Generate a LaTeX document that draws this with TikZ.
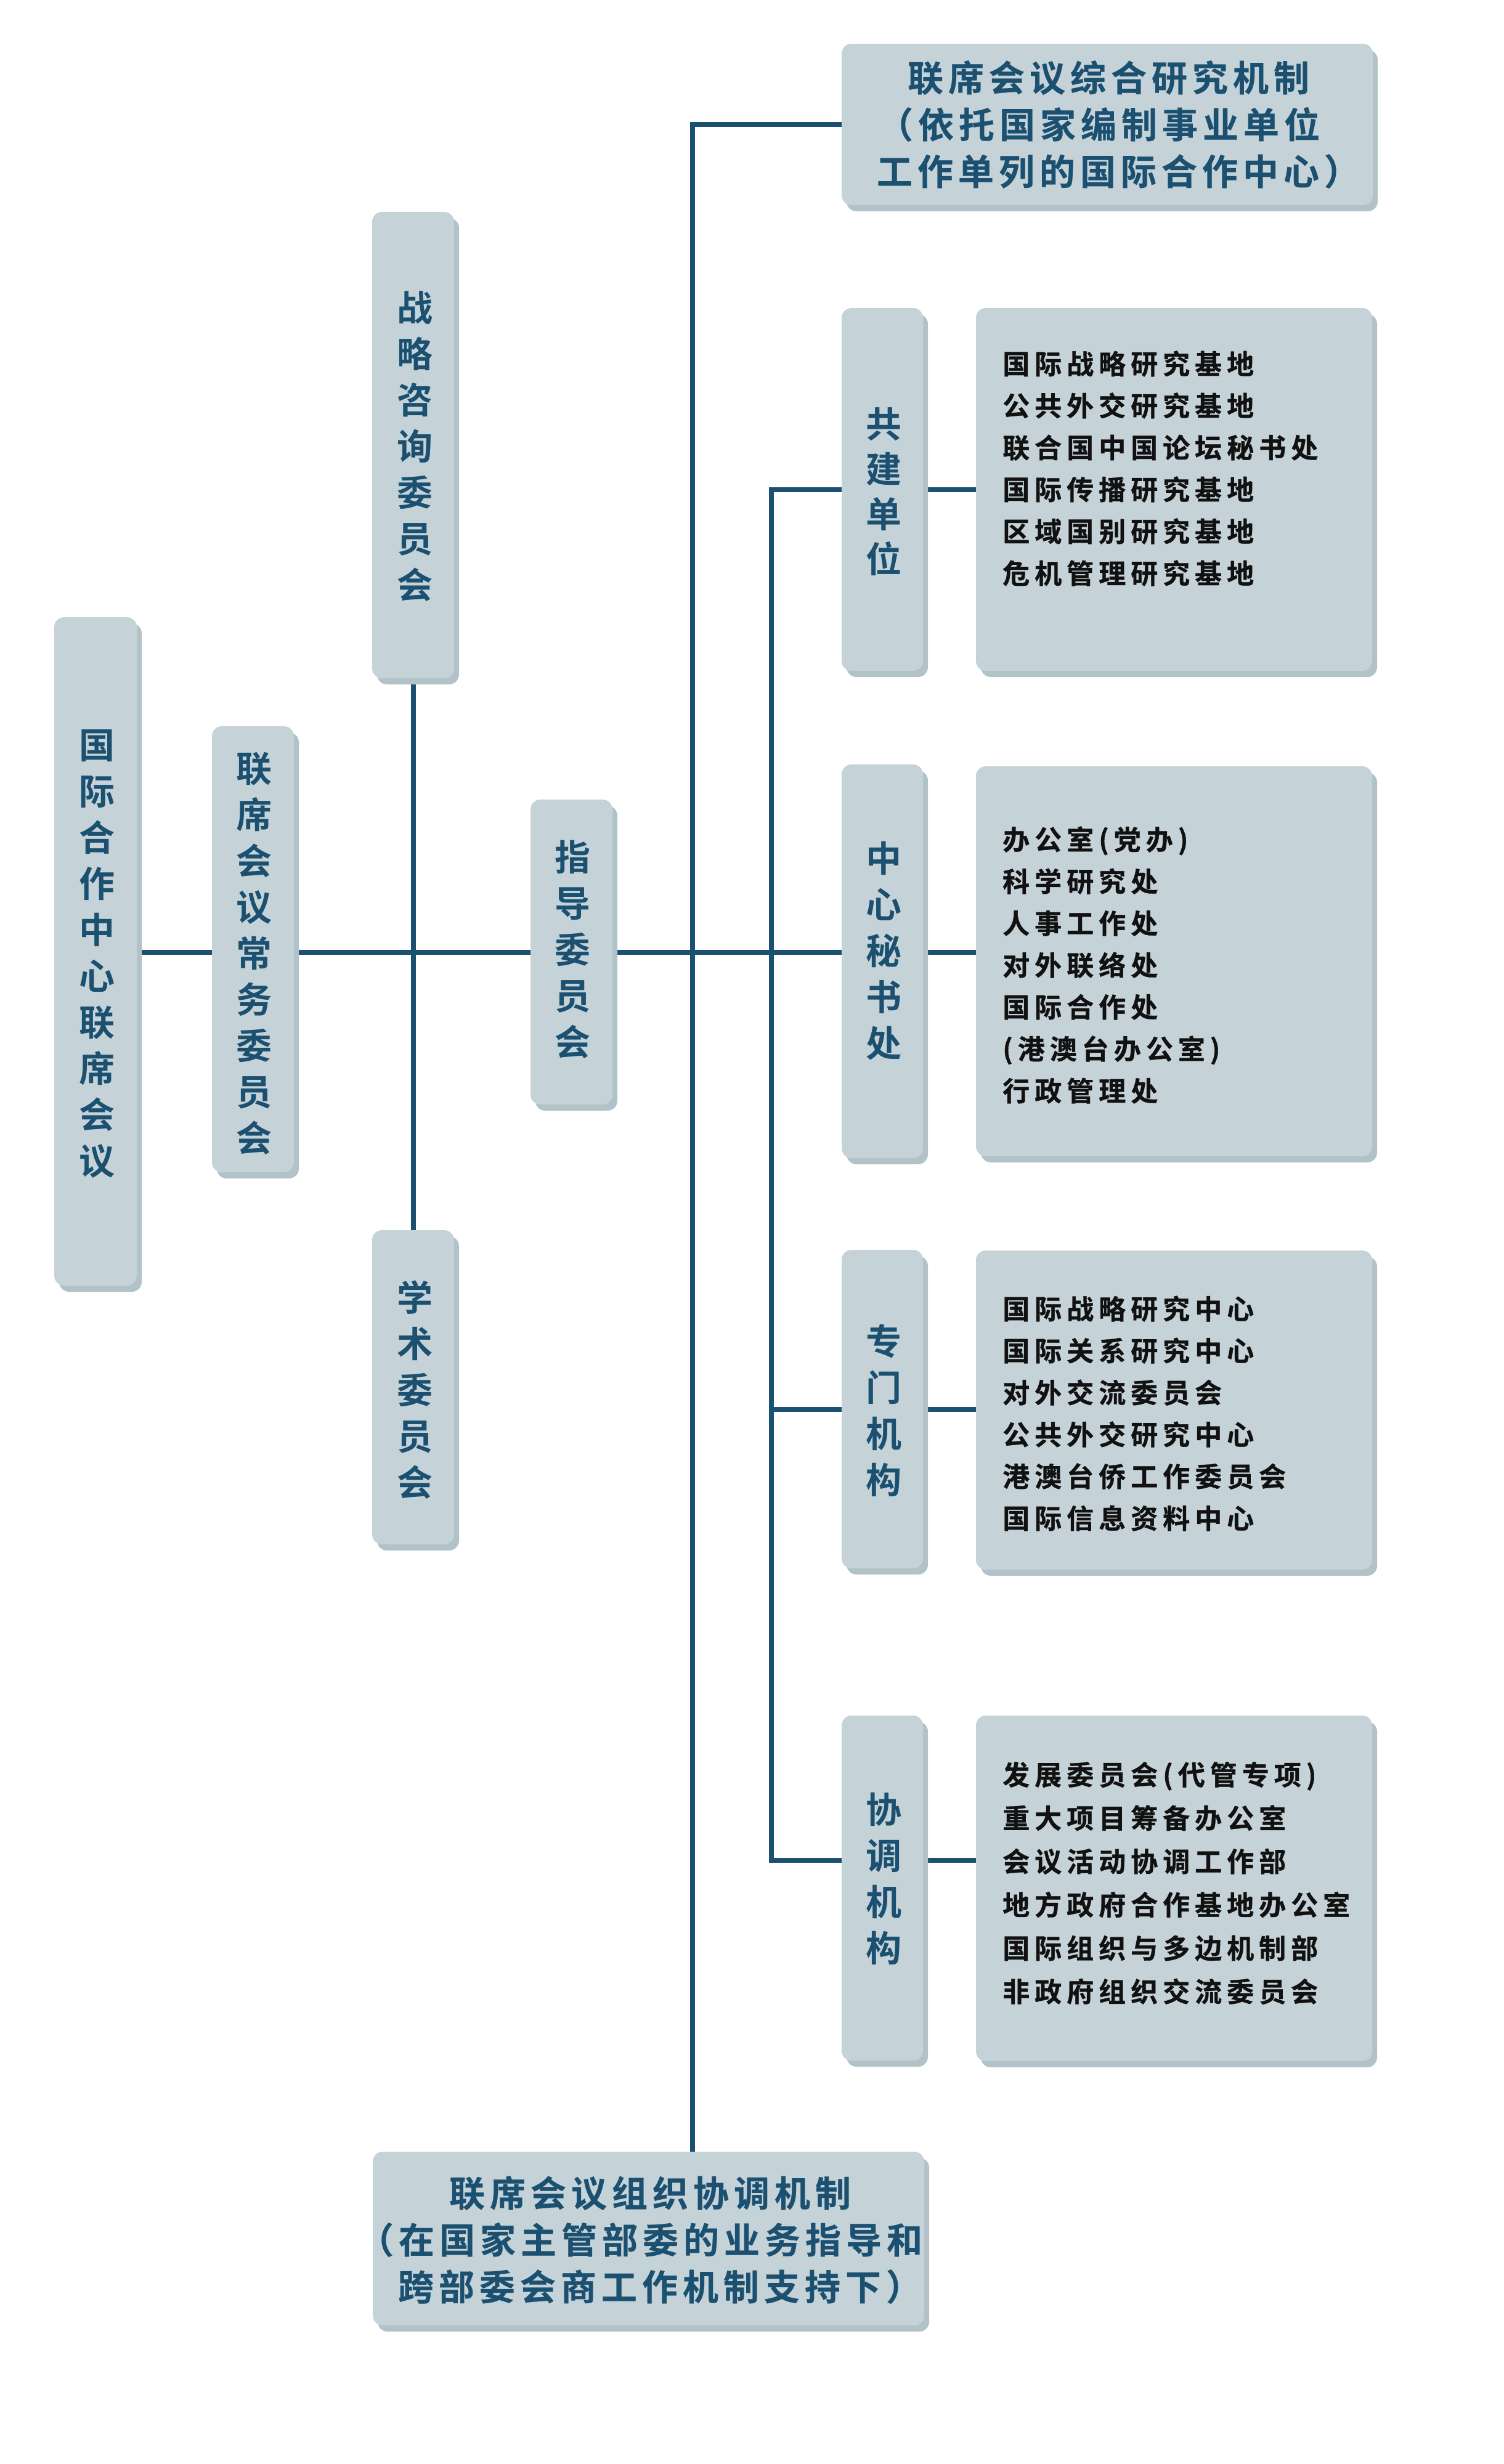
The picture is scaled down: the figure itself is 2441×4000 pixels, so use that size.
\documentclass[tikz,border=0pt]{standalone}
\usepackage{fontspec}
\newfontfamily\cjkb{Noto Sans CJK SC Bold}
\newfontfamily\cjkh{Noto Sans CJK SC Bold}[FakeBold=0.4]
\newfontfamily\cjkk{Noto Sans CJK SC Bold}[FakeBold=0.8]
\usetikzlibrary{shadows}
\pgfdeclarelayer{background}
\pgfsetlayers{background,main}
\definecolor{boxc}{HTML}{C5D3D8}
\definecolor{shc}{HTML}{B2C2C9}
\definecolor{bluec}{HTML}{1B5070}
\definecolor{txtc}{HTML}{111111}
\def\trh#1{\def\trkamt{8pt}\traux#1\relax\unkern}
\def\trl#1{\def\trkamt{8pt}\traux#1\relax\unkern}
\def\traux#1{\ifx#1\relax\else#1\kern\trkamt\relax\expandafter\traux\fi}
\def\lp{\makebox[0.45em][r]{（}}
\def\rp{\makebox[0.45em][l]{）}}
\tikzset{
  box/.style={rectangle, rounded corners=16pt, fill=boxc, inner sep=0pt,
    general shadow={fill=shc, shadow xshift=8pt, shadow yshift=-10pt}},
  vtxt/.style={align=center, inner sep=0pt, text=bluec, font=\cjkb\fontsize{58}{75}\selectfont},
  htxt/.style={align=center, inner sep=0pt, text=bluec, font=\cjkh\fontsize{58}{76}\selectfont},
  ltxt/.style={align=left, anchor=west, inner sep=0pt, text=txtc, font=\cjkk\fontsize{44}{68}\selectfont},
  conn/.style={draw=bluec, line width=8pt},
}
\begin{document}
\begin{tikzpicture}[x=1pt,y=-1pt]
\useasboundingbox (0,0) rectangle (2441,4000);
% boxes
\node[box, minimum width=134pt, minimum height=1085pt] (A) at (155,1544.5) {};
\node[box, minimum width=133pt, minimum height=724pt] (B) at (410.5,1541) {};
\node[box, minimum width=133pt, minimum height=757pt] (Z) at (670.5,722.5) {};
\node[box, minimum width=133pt, minimum height=510pt] (X) at (670.5,2252) {};
\node[box, minimum width=133pt, minimum height=495pt] (G) at (927.5,1545.5) {};
\node[box, minimum width=862pt, minimum height=262pt] (T) at (1797,202) {};
\node[box, minimum width=895pt, minimum height=282pt] (Bm) at (1052.5,3634) {};
\node[box, minimum width=132pt, minimum height=589pt] (S1) at (1432,794.5) {};
\node[box, minimum width=643pt, minimum height=589pt] (L1) at (1905.5,794.5) {};
\node[box, minimum width=132pt, minimum height=639pt] (S2) at (1432,1560.5) {};
\node[box, minimum width=643pt, minimum height=633pt] (L2) at (1905.5,1560.5) {};
\node[box, minimum width=132pt, minimum height=517pt] (S3) at (1432,2287.5) {};
\node[box, minimum width=643pt, minimum height=518pt] (L3) at (1905.5,2289) {};
\node[box, minimum width=132pt, minimum height=560pt] (S4) at (1432,3065) {};
\node[box, minimum width=643pt, minimum height=561pt] (L4) at (1905.5,3065.5) {};
% vertical labels
\node[vtxt] (tA) at (157,1548) {国\\际\\合\\作\\中\\心\\联\\席\\会\\议};
\node[vtxt] (tB) at (412,1548) {联\\席\\会\\议\\常\\务\\委\\员\\会};
\node[vtxt] (tZ) at (673,725) {战\\略\\咨\\询\\委\\员\\会};
\node[vtxt] (tX) at (673,2256) {学\\术\\委\\员\\会};
\node[vtxt] (tG) at (929,1541) {指\\导\\委\\员\\会};
\node[vtxt, font=\cjkb\fontsize{58}{73}\selectfont] (tS1) at (1434,798) {共\\建\\单\\位};
\node[vtxt] (tS2) at (1434,1544) {中\\心\\秘\\书\\处};
\node[vtxt] (tS3) at (1434,2290) {专\\门\\机\\构};
\node[vtxt] (tS4) at (1434,3050) {协\\调\\机\\构};
% horizontal blue labels
\node[htxt] (tT) at (1799,202) {\trh{联席会议综合研究机制}\\\trh{\lp 依托国家编制事业单位}\\\trh{工作单列的国际合作中心\rp}};
\node[htxt] (tBm) at (1055,3636) {\trh{联席会议组织协调机制}\\\trh{\lp 在国家主管部委的业务指导和}\\\trh{跨部委会商工作机制支持下\rp}};
% lists
\node[ltxt] (tL1) at (1627,760.5) {\trl{国际战略研究基地}\\\trl{公共外交研究基地}\\\trl{联合国中国论坛秘书处}\\\trl{国际传播研究基地}\\\trl{区域国别研究基地}\\\trl{危机管理研究基地}};
\node[ltxt] (tL2) at (1627,1566.5) {\trl{办公室(党办)}\\\trl{科学研究处}\\\trl{人事工作处}\\\trl{对外联络处}\\\trl{国际合作处}\\\trl{(港澳台办公室)}\\\trl{行政管理处}};
\node[ltxt] (tL3) at (1627,2294.5) {\trl{国际战略研究中心}\\\trl{国际关系研究中心}\\\trl{对外交流委员会}\\\trl{公共外交研究中心}\\\trl{港澳台侨工作委员会}\\\trl{国际信息资料中心}};
\node[ltxt, font=\cjkk\fontsize{44}{70.4}\selectfont] (tL4) at (1627,3057) {\trl{发展委员会(代管专项)}\\\trl{重大项目筹备办公室}\\\trl{会议活动协调工作部}\\\trl{地方政府合作基地办公室}\\\trl{国际组织与多边机制部}\\\trl{非政府组织交流委员会}};
% connectors
\coordinate (h) at (0,1546);
\coordinate (tk1) at (1124,0);
\coordinate (tk2) at (1252,0);
\coordinate (s4y) at (0,3020);
\begin{pgfonlayer}{background}
\fill[white] (0,0) rectangle (2441,4000);
\draw[conn] (A.east |- h) -- (B.west |- h);
\draw[conn] (B.east |- h) -- (G.west |- h);
\draw[conn] (G.east |- h) -- (S2.west |- h);
\draw[conn] (Z.south) -- (X.north);
\draw[conn] (T.west) -- (tk1 |- T.west) -- (tk1 |- Bm.north);
\draw[conn] (S1.west) -- (tk2 |- S1.west) -- (tk2 |- s4y) -- (S4.west |- s4y);
\draw[conn] (tk2 |- S3.west) -- (S3.west);
\draw[conn] (S1.east) -- (L1.west);
\draw[conn] (S2.east |- h) -- (L2.west |- h);
\draw[conn] (S3.east) -- (L3.west |- S3.east);
\draw[conn] (S4.east |- s4y) -- (L4.west |- s4y);
\end{pgfonlayer}
\end{tikzpicture}
\end{document}
